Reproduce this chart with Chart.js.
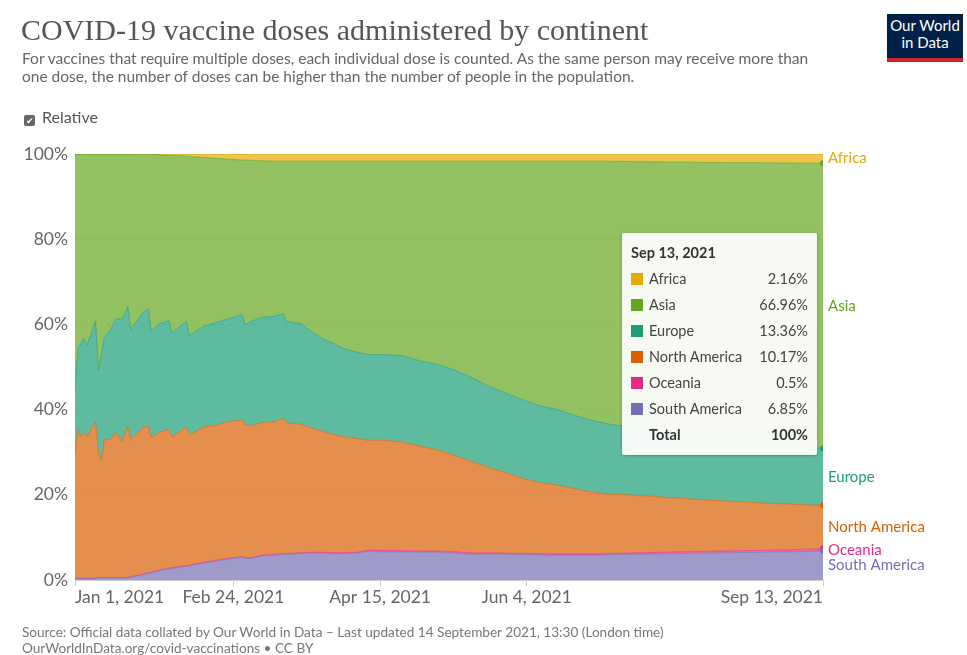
<!DOCTYPE html>
<html>
<head>
<meta charset="utf-8">
<script src="https://cdn.jsdelivr.net/npm/chart.js@4.4.1/dist/chart.umd.min.js"></script>
<style>
  html, body { margin: 0; padding: 0; background: #fff; }
  body { width: 967px; height: 655px; position: relative; overflow: hidden; font-family: Lato, "Noto Sans", sans-serif; }
  #wrap { position: absolute; left: 0; top: 0; width: 967px; height: 655px; }
  .abs { position: absolute; white-space: nowrap; }
  #title { left: 21px; top: 13px; font-family: "Liberation Serif", serif; font-size: 30px; color: #555; }
  #subtitle { left: 22px; top: 49px; font-size: 15.5px; line-height: 18px; color: #666; }
  #relative { left: 24px; top: 107px; font-size: 16px; color: #555; }
  #relative .box { display: inline-block; width: 11px; height: 11px; background: #666; border-radius: 2px; color: #fff; font-size: 9px; line-height: 11px; text-align: center; vertical-align: -1px; margin-right: 7px; }
  #logo { left: 887px; top: 14px; width: 76px; height: 41px; background: #002147; color: #fff; font-size: 15px; line-height: 17px; text-align: center; padding-top: 3px; border-bottom: 4px solid #ce261e; box-sizing: content-box; }
  #footer { left: 22px; top: 624px; font-size: 13.6px; line-height: 16px; color: #777; }
  #tip { left: 622px; top: 233px; width: 195px; height: 222px; background: rgba(252,253,250,0.95); border-radius: 2px; box-shadow: 0 1px 3px rgba(0,0,0,0.25); box-sizing: border-box; padding: 9px 9px 0 9px; font-size: 14.5px; color: #333; }
  #tip .ttl { font-weight: bold; color: #333; height: 24px; line-height: 22px; }
  #tip table { border-collapse: collapse; width: 100%; }
  #tip td { height: 26px; padding: 0; line-height: 26px; color: #444; }
  #tip td.val { text-align: right; }
  #tip .sw { display: inline-block; width: 12px; height: 12px; margin-right: 6px; vertical-align: -1px; }
  #tip tr.total td { font-weight: bold; color: #333; }
</style>
</head>
<body>
<div id="wrap"><canvas id="chart"></canvas></div>
<div class="abs" id="title">COVID-19 vaccine doses administered by continent</div>
<div class="abs" id="subtitle">For vaccines that require multiple doses, each individual dose is counted. As the same person may receive more than<br>one dose, the number of doses can be higher than the number of people in the population.</div>
<div class="abs" id="relative"><span class="box">&#10004;</span>Relative</div>
<div class="abs" id="logo">Our World<br>in Data</div>
<div class="abs" id="footer">Source: Official data collated by Our World in Data – Last updated 14 September 2021, 13:30 (London time)<br>OurWorldInData.org/covid-vaccinations • CC BY</div>
<div class="abs" id="tip"></div>
<script>
// days since Jan 1, 2021
const days = [0,1,2,3,4,7,8,9,10,12,14,16,18,19,23,25,26,29,32,33,38,39,44,48,52,56,57,58,60,64,68,71,72,77,80,85,88,91,96,100,106,111,119,124,130,136,141,147,153,158,164,170,176,182,193,206,220,234,244,255];

// share of doses, %
const southAmerica = [0.3,0.3,0.3,0.3,0.3,0.3,0.5,0.5,0.5,0.5,0.5,0.5,0.5,0.7,1.2,1.6,1.7,2.2,2.6,2.7,3.2,3.3,4.0,4.4,4.9,5.2,5.3,5.1,5.0,5.7,5.8,6.0,6.0,6.2,6.3,6.3,6.2,6.2,6.3,6.7,6.6,6.6,6.5,6.5,6.3,6.0,6.1,6.0,5.9,5.9,5.8,5.8,5.8,5.9,6.05,6.2,6.4,6.5,6.6,6.85];
const oceania = [0.1,0.1,0.1,0.1,0.1,0.1,0.1,0.1,0.1,0.1,0.1,0.1,0.1,0.1,0.1,0.1,0.1,0.2,0.2,0.2,0.2,0.2,0.2,0.2,0.2,0.2,0.2,0.2,0.2,0.2,0.2,0.2,0.2,0.2,0.2,0.2,0.2,0.2,0.2,0.3,0.3,0.3,0.3,0.3,0.3,0.3,0.3,0.3,0.3,0.3,0.3,0.3,0.3,0.3,0.35,0.4,0.4,0.45,0.5,0.5];
const northAmerica = [28.9,34.8,33.4,34.0,33.2,36.7,29.4,27.5,32.4,32.4,34.0,31.8,35.5,32.2,34.3,34.5,31.6,32.4,32.5,30.7,32.5,30.6,31.7,31.7,32.0,32.1,32.2,31.2,31.0,31.1,31.1,31.8,30.7,30.2,29.3,28.3,27.8,27.3,26.7,25.8,25.9,25.5,24.4,23.7,22.5,21.3,20.0,18.8,17.6,16.7,16.2,15.4,14.5,14.0,13.4,12.6,11.8,11.15,10.7,10.17];
const europe = [15.2,19.1,21.7,22.4,21.5,23.6,19.4,25.1,24.0,25.6,26.7,28.8,28.0,25.8,27.1,27.5,25.0,25.4,25.6,24.4,24.8,23.3,23.7,24.1,24.1,24.6,24.6,23.4,24.5,24.7,24.8,24.5,23.8,23.6,22.8,21.6,21.4,20.8,20.3,20.1,20.1,20.3,20.0,20.1,20.0,19.7,19.1,18.7,18.4,18.1,17.8,17.2,16.9,16.4,15.6,15.0,14.4,13.9,13.6,13.36];
const asia = [55.5,45.7,44.5,43.2,44.9,39.3,50.6,46.8,43.0,41.4,38.7,38.8,35.9,41.2,37.2,36.2,41.5,39.6,38.8,41.7,38.8,42.0,39.6,38.6,37.6,36.5,36.3,38.7,37.8,36.7,36.4,35.8,37.6,38.1,39.7,41.9,42.7,43.8,44.8,45.4,45.4,45.6,47.1,47.7,49.2,51.0,52.8,54.5,56.1,57.3,58.2,59.6,60.8,61.7,62.8,63.9,65.0,65.95,66.5,66.96];
const africa = [0,0,0,0,0,0,0,0,0,0,0,0,0,0,0.1,0.1,0.1,0.2,0.3,0.3,0.5,0.6,0.8,1.0,1.2,1.4,1.4,1.4,1.5,1.6,1.7,1.7,1.7,1.7,1.7,1.7,1.7,1.7,1.7,1.7,1.7,1.7,1.7,1.7,1.7,1.7,1.7,1.7,1.7,1.7,1.7,1.7,1.7,1.7,1.8,1.9,2.0,2.05,2.1,2.16];

const tickDays = [0, 54, 104, 154, 255];
const tickLabels = ['Jan 1, 2021', 'Feb 24, 2021', 'Apr 15, 2021', 'Jun 4, 2021', 'Sep 13, 2021'];
const yTicks = [0, 20, 40, 60, 80, 100];
const lastDateLabel = 'Sep 13, 2021';

// bottom to top
const series = [
    {name: 'South America', values: southAmerica, color: '117,112,179', dot: true},
    {name: 'Oceania', values: oceania, color: '231,41,138', dot: true},
    {name: 'North America', values: northAmerica, color: '217,95,2', dot: true},
    {name: 'Europe', values: europe, color: '27,158,119', dot: true},
    {name: 'Asia', values: asia, color: '102,166,30', dot: true},
    {name: 'Africa', values: africa, color: '230,171,2', dot: false}
];

const last = days.length - 1;

const datasets = series.map(function (s, i) {
    return {
        label: s.name,
        data: days.map(function (d, j) { return {x: d, y: s.values[j]}; }),
        backgroundColor: 'rgba(' + s.color + ',0.7)',
        borderColor: 'rgba(' + s.color + ',0.9)',
        borderWidth: 0.7,
        fill: i === 0 ? 'origin' : '-1',
        tension: 0,
        pointRadius: days.map(function (d, j) { return (j === last && s.dot) ? 3 : 0; }),
        pointBackgroundColor: 'rgb(' + s.color + ')',
        pointBorderWidth: 0
    };
});

// series names at the right end
const endLabels = {
    id: 'endLabels',
    afterDatasetsDraw: function (chart) {
        const c = chart.ctx;
        const y = chart.scales.y;
        const x = chart.chartArea.right + 5;
        let base = 0;
        c.save();
        c.font = '15px Lato';
        c.textBaseline = 'middle';
        c.textAlign = 'left';
        series.forEach(function (s) {
            const v = s.values[last];
            const mid = y.getPixelForValue(base + v / 2);
            base += v;
            c.fillStyle = 'rgb(' + s.color + ')';
            c.fillText(s.name, x, mid);
        });
        c.restore();
    }
};

const ctx = document.getElementById('chart');
const myChart = new Chart(ctx, {
    type: 'line',
    data: {datasets: datasets},
    plugins: [endLabels],
    options: {
        responsive: true,
        maintainAspectRatio: false,
        animation: false,
        layout: {padding: {left: 0, top: 154, right: 144, bottom: 45}},
        plugins: {legend: {display: false}, tooltip: {enabled: false}},
        scales: {
            x: {
                type: 'linear',
                min: 0,
                max: 255,
                afterBuildTicks: function (axis) {
                    axis.ticks = tickDays.map(function (v) { return {value: v}; });
                },
                afterFit: function (axis) { axis.height = 30; },
                grid: {drawOnChartArea: false, drawTicks: true, tickLength: 6, color: '#ccc'},
                border: {display: true, color: '#ccc'},
                ticks: {
                    align: 'inner',
                    autoSkip: false,
                    maxRotation: 0,
                    padding: 1,
                    color: '#666',
                    font: {family: 'Lato', size: 17.5},
                    callback: function (v) { return tickLabels[tickDays.indexOf(v)]; }
                }
            },
            y: {
                stacked: true,
                min: 0,
                max: 100,
                afterBuildTicks: function (axis) {
                    axis.ticks = yTicks.map(function (v) { return {value: v}; });
                },
                afterFit: function (axis) { axis.width = 75; },
                grid: {drawTicks: false, color: '#ddd'},
                border: {display: false, dash: [4, 4]},
                ticks: {
                    padding: 7,
                    color: '#666',
                    font: {family: 'Lato', size: 17.5},
                    callback: function (v) { return v + '%'; }
                }
            }
        }
    }
});

// static hover box for the last date
function buildTip() {
    let rows = '';
    let total = 0;
    series.slice().reverse().forEach(function (s) {
        const v = s.values[last];
        total += v;
        rows += '<tr><td><span class="sw" style="background:rgb(' + s.color + ')"></span>' + s.name + '</td>' +
            '<td class="val">' + v + '%</td></tr>';
    });
    rows += '<tr class="total"><td><span class="sw"></span>Total</td><td class="val">' + Math.round(total) + '%</td></tr>';
    document.getElementById('tip').innerHTML = '<div class="ttl">' + lastDateLabel + '</div><table>' + rows + '</table>';
}
buildTip();
</script>
</body>
</html>
